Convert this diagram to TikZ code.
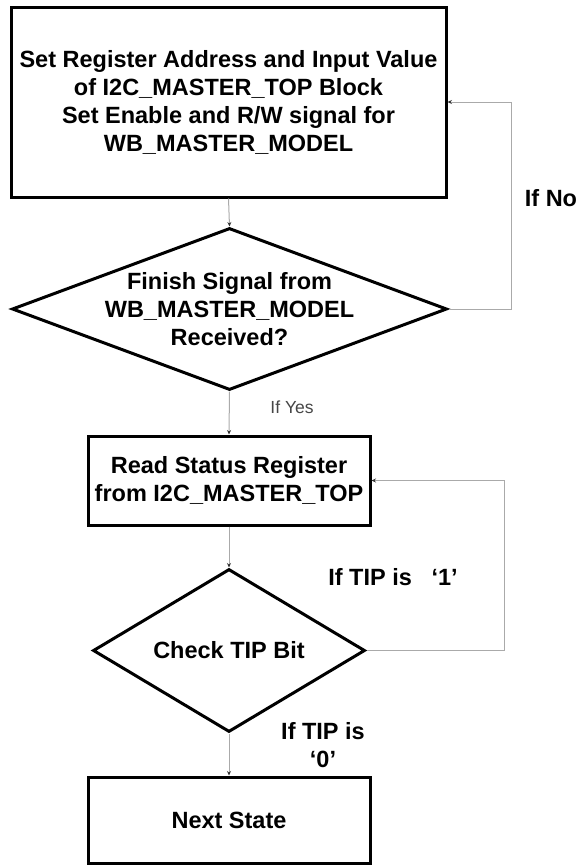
\documentclass[tikz,border=0pt]{standalone}
\usepackage{fontspec}
\setmainfont{Liberation Sans}
\usepackage{tikz}
\usetikzlibrary{shapes.geometric,arrows.meta,positioning}
\definecolor{linkgrey}{RGB}{170,170,170}
\definecolor{yesgrey}{RGB}{70,70,70}

\begin{document}
\begin{tikzpicture}[x=1pt,y=-1pt,
  font=\fontsize{23.5}{28}\selectfont\bfseries,
  blk/.style={draw,line width=3pt,align=center,inner sep=0pt},
  dec/.style={diamond,draw,line width=3pt,inner sep=0pt},
  txt/.style={align=center,inner sep=0pt},
  link/.style={-{Stealth[length=4.5pt,width=4pt,color=black!80]},draw=linkgrey,line width=1pt}]
\useasboundingbox (0,0) rectangle (579,865);
\node[blk,minimum width=435,minimum height=190] (setreg) at (228.5,102)
 {Set Register Address and Input Value\\of I2C\_MASTER\_TOP Block\\Set Enable and R/W signal for\\WB\_MASTER\_MODEL};
\node[dec,minimum width=435,minimum height=162] (finish) at (229.5,309) {};
\node[txt] (finishtxt) at (finish.center) {Finish Signal from\\WB\_MASTER\_MODEL\\Received?};
\node[blk,minimum width=282,minimum height=89] (readst) at (229,480.5)
 {Read Status Register\\from I2C\_MASTER\_TOP};
\node[dec,minimum width=272,minimum height=163] (tipchk) at (229,650.5) {};
\node[txt] (tipchktxt) at (tipchk.center) {Check TIP Bit};
\node[blk,minimum width=282,minimum height=86] (nextst) at (229,820) {Next State};
\coordinate (nocorner) at (511,309);
\coordinate (onecorner) at (504,650.5);
% flow
\draw[link] (setreg.south) -- (finish.north);
\draw[link] (finish.south) -- (readst.north);
\draw[link] (readst.south) -- (tipchk.north);
\draw[link] (tipchk.south) -- (nextst.north);
% loops back
\draw[link] (finish.east) -- (nocorner) |- (setreg.east);
\draw[link] (tipchk.east) -- (onecorner) |- (readst.east);
% labels
\node[txt] (ifno) at (551,198) {If No};
\node[txt,font=\fontsize{17.5}{21}\selectfont,text=yesgrey] (ifyes) at (292,407) {If Yes};
\node[txt] (ifone) at (393,577) {If TIP is\ \ \ ‘1’};
\node[txt] (ifzero) at (323,745) {If TIP is\\‘0’};
\end{tikzpicture}
\end{document}
